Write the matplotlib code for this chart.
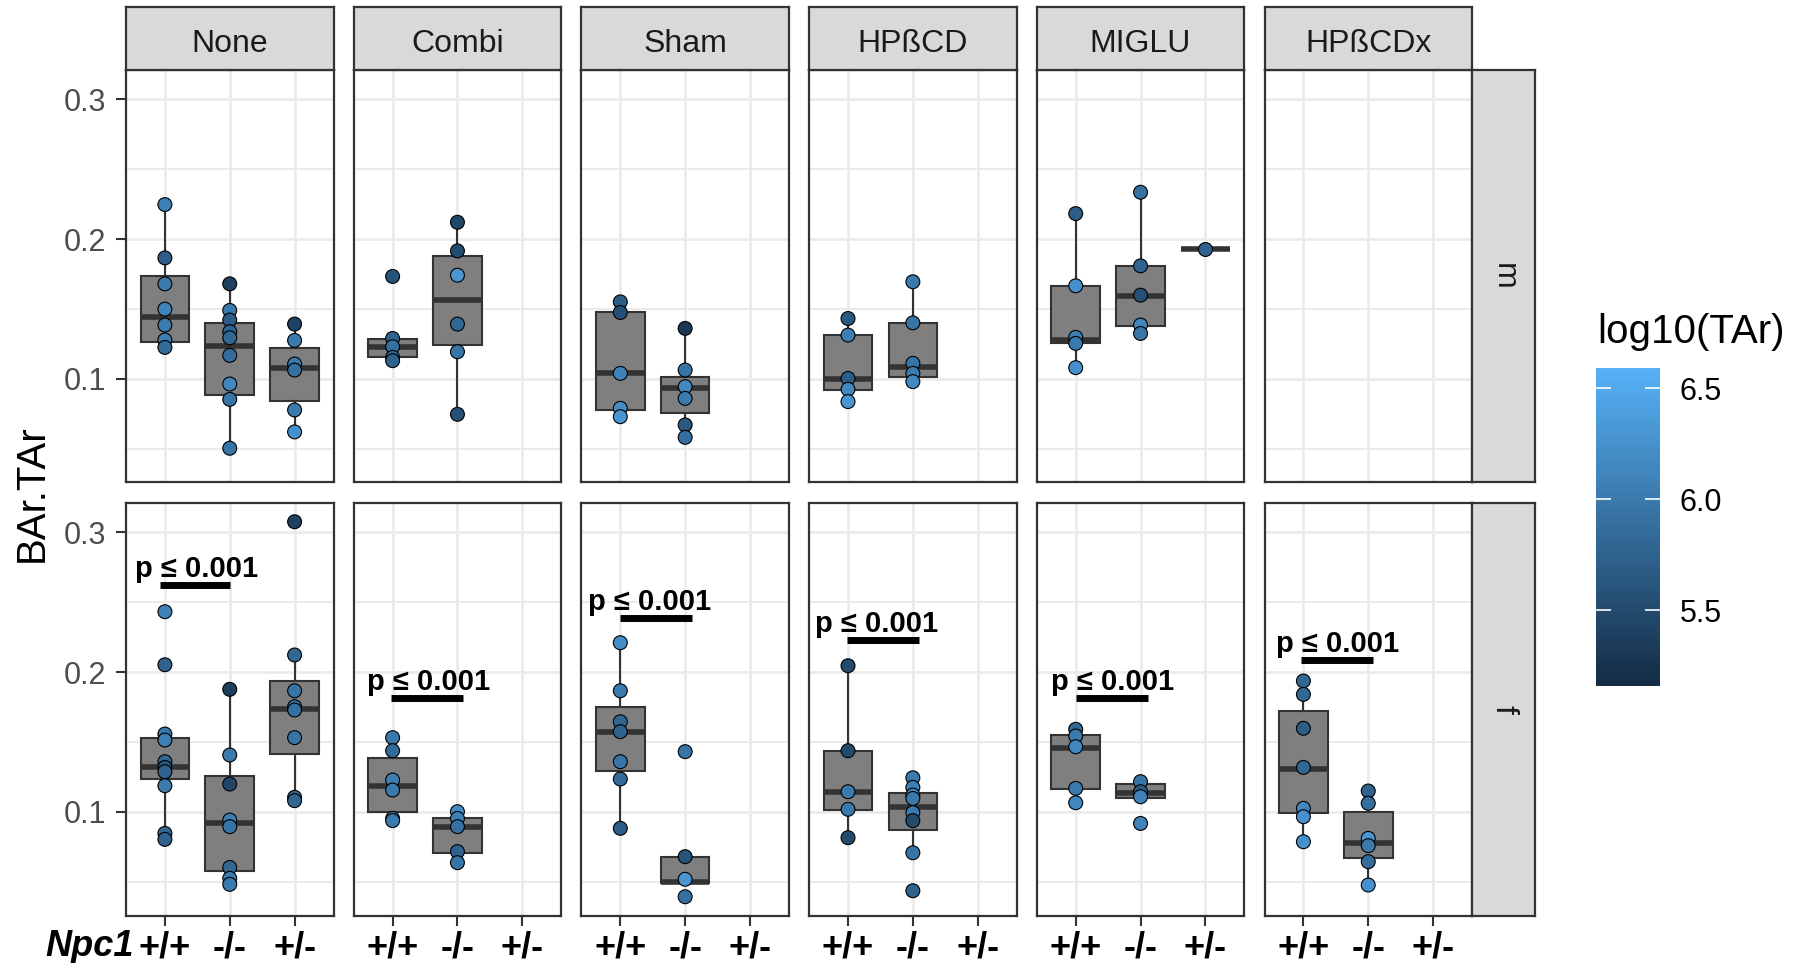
import numpy as np
import matplotlib
matplotlib.use('Agg')
import matplotlib.pyplot as plt
from matplotlib.colors import LinearSegmentedColormap, Normalize
from matplotlib.cm import ScalarMappable

plt.rcParams['font.family'] = ['Liberation Sans', 'DejaVu Sans']

treatments = ['None', 'Combi', 'Sham', 'HPßCD', 'MIGLU', 'HPßCDx']
sexes = ['m', 'f']
genotypes = ['+/+', '-/-', '+/-']

# one entry per group
grp_sex = ['m'] * 12 + ['f'] * 13
grp_trt = ['None', 'None', 'None', 'Combi', 'Combi', 'Sham', 'Sham', 'HPßCD', 'HPßCD',
           'MIGLU', 'MIGLU', 'MIGLU',
           'None', 'None', 'None', 'Combi', 'Combi', 'Sham', 'Sham', 'HPßCD', 'HPßCD',
           'MIGLU', 'MIGLU', 'HPßCDx', 'HPßCDx']
grp_gt = ['+/+', '-/-', '+/-', '+/+', '-/-', '+/+', '-/-', '+/+', '-/-', '+/+', '-/-', '+/-',
          '+/+', '-/-', '+/-', '+/+', '-/-', '+/+', '-/-', '+/+', '-/-', '+/+', '-/-', '+/+', '-/-']

# BAr.TAr of each animal
bar_vals = [
    [0.2247, 0.1865, 0.1679, 0.1498, 0.1384, 0.1277, 0.1224],
    [0.1679, 0.1489, 0.1420, 0.1336, 0.1293, 0.1167, 0.0962, 0.0852, 0.0502],
    [0.1391, 0.1274, 0.1105, 0.1062, 0.0776, 0.0619],
    [0.1732, 0.1288, 0.1229, 0.1153, 0.1129],
    [0.2120, 0.1915, 0.1741, 0.1391, 0.1193, 0.0745],
    [0.1550, 0.1474, 0.1038, 0.0788, 0.0728],
    [0.1360, 0.1062, 0.0943, 0.0859, 0.0669, 0.0580],
    [0.1431, 0.1312, 0.1002, 0.0924, 0.0836],
    [0.1694, 0.1400, 0.1110, 0.1038, 0.0979],
    [0.2182, 0.1665, 0.1296, 0.1253, 0.1079],
    [0.2335, 0.1808, 0.1598, 0.1384, 0.1324],
    [0.1932],
    [0.2432, 0.2052, 0.1556, 0.1513, 0.1358, 0.1317, 0.1286, 0.1186, 0.0845, 0.0802],
    [0.1876, 0.1406, 0.1198, 0.0940, 0.0893, 0.0601, 0.0523, 0.0480],
    [0.3076, 0.2122, 0.1866, 0.1752, 0.1728, 0.1530, 0.1103, 0.1079],
    [0.1530, 0.1437, 0.1227, 0.1155, 0.0952, 0.0936],
    [0.1000, 0.0952, 0.0893, 0.0714, 0.0635],
    [0.2210, 0.1866, 0.1644, 0.1573, 0.1358, 0.1234, 0.0881],
    [0.1430, 0.0678, 0.0516, 0.0391],
    [0.2045, 0.1437, 0.1143, 0.1017, 0.0814],
    [0.1243, 0.1174, 0.1119, 0.1095, 0.0993, 0.0936, 0.0706, 0.0434],
    [0.1590, 0.1542, 0.1465, 0.1167, 0.1064],
    [0.1215, 0.1143, 0.1107, 0.0916],
    [0.1936, 0.1840, 0.1597, 0.1317, 0.1024, 0.0964, 0.0785],
    [0.1148, 0.1060, 0.0809, 0.0757, 0.0642, 0.0475],
]

# log10(TAr) of each animal (point colour)
tar_vals = [
    [6.05, 5.70, 6.00, 6.10, 6.00, 6.05, 5.85],
    [5.40, 6.00, 5.70, 5.80, 5.80, 5.85, 6.15, 5.95, 5.95],
    [5.40, 6.00, 6.00, 5.90, 6.00, 6.25],
    [5.60, 5.75, 5.90, 5.80, 5.75],
    [5.45, 5.50, 6.30, 5.80, 5.95, 5.55],
    [5.70, 5.55, 6.10, 6.20, 6.30],
    [5.30, 5.95, 6.15, 6.00, 5.65, 5.90],
    [5.65, 6.05, 5.70, 6.15, 6.30],
    [6.00, 5.95, 5.95, 6.00, 6.15],
    [5.70, 6.25, 6.05, 6.00, 6.25],
    [5.90, 5.75, 5.55, 6.15, 5.95],
    [5.75],
    [6.10, 5.75, 6.00, 6.05, 5.80, 5.65, 5.75, 6.00, 5.80, 5.75],
    [5.35, 6.00, 5.45, 6.05, 5.95, 5.80, 6.00, 6.00],
    [5.40, 5.80, 5.95, 5.90, 5.90, 5.95, 5.80, 5.80],
    [6.00, 5.85, 6.05, 6.00, 6.10, 6.00],
    [6.20, 6.05, 5.90, 5.75, 5.95],
    [6.20, 6.00, 5.80, 5.75, 5.95, 5.85, 5.70],
    [5.95, 5.60, 6.30, 5.90],
    [5.50, 5.50, 6.00, 6.00, 5.50],
    [6.00, 6.05, 6.15, 6.00, 6.00, 5.50, 5.95, 5.75],
    [5.80, 6.00, 6.15, 6.00, 6.15],
    [5.95, 5.70, 6.10, 6.10],
    [5.80, 5.80, 5.70, 5.80, 6.15, 6.25, 6.25],
    [5.75, 5.90, 6.30, 6.00, 5.85, 6.25],
]

# box statistics
box_lo = [0.1224, 0.0502, 0.0619, 0.1129, 0.0745, 0.0728, 0.0580, 0.0836, 0.0979, 0.1079, 0.1324, 0.1932,
          0.0802, 0.0480, 0.1079, 0.0936, 0.0635, 0.0881, 0.0492, 0.0814, 0.0706, 0.1064, 0.1095, 0.0785, 0.0475]
box_q1 = [0.1260, 0.0881, 0.0843, 0.1153, 0.1241, 0.0776, 0.0752, 0.0919, 0.1014, 0.1253, 0.1379, 0.1932,
          0.1232, 0.0578, 0.1413, 0.0995, 0.0702, 0.1291, 0.0492, 0.1012, 0.0869, 0.1160, 0.1095, 0.0988, 0.0666]
box_med = [0.1439, 0.1234, 0.1074, 0.1229, 0.1563, 0.1038, 0.0931, 0.0998, 0.1086, 0.1277, 0.1594, 0.1932,
           0.1322, 0.0921, 0.1737, 0.1184, 0.0888, 0.1573, 0.0499, 0.1138, 0.1036, 0.1458, 0.1131, 0.1308, 0.0773]
box_q3 = [0.1734, 0.1400, 0.1222, 0.1284, 0.1877, 0.1479, 0.1010, 0.1312, 0.1400, 0.1665, 0.1808, 0.1932,
          0.1530, 0.1255, 0.1938, 0.1382, 0.0952, 0.1752, 0.0678, 0.1437, 0.1136, 0.1549, 0.1198, 0.1723, 0.1000]
box_hi = [0.2247, 0.1679, 0.1391, 0.1288, 0.2120, 0.1550, 0.1360, 0.1431, 0.1694, 0.2182, 0.2335, 0.1932,
          0.1556, 0.1876, 0.2122, 0.1530, 0.1000, 0.2210, 0.0678, 0.2045, 0.1243, 0.1590, 0.1198, 0.1936, 0.1148]

# significance bars (bottom row, +/+ vs -/-)
sig_y = [0.262, 0.1811, 0.2384, 0.2229, 0.1811, 0.2084]
sig_x0 = [0.92, 0.98, 0.99, 0.98, 1.01, 0.96]
sig_x1 = [2.01, 2.09, 2.10, 2.09, 2.11, 2.07]
sig_tx = [1.49, 1.56, 1.45, 1.44, 1.57, 1.52]
sig_label = 'p ≤ 0.001'

cmap = LinearSegmentedColormap.from_list('gg', ['#132B43', '#56B1F7'])
norm = Normalize(5.16, 6.59)

allv = np.concatenate([np.array(v) for v in bar_vals])
span = allv.max() - allv.min()
ylim = (allv.min() - 0.05 * span, allv.max() + 0.05 * span)

W, H = 1794, 963
fig = plt.figure(figsize=(W / 100, H / 100), dpi=100)


def rect(x0, y0, w, h):
    return [x0 / W, 1 - (y0 + h) / H, w / W, h / H]


col_x = [126 + 227.7 * i for i in range(6)]
panel_w = 207.5
row_y = [70, 503]
panel_h = 412.5
strip_col = '#D9D9D9'
edge = '#333333'

for r, sex in enumerate(sexes):
    for c, trt in enumerate(treatments):
        ax = fig.add_axes(rect(col_x[c], row_y[r], panel_w, panel_h))
        ax.set_xlim(0.4, 3.6)
        ax.set_ylim(*ylim)
        ax.set_xticks([1, 2, 3])
        ax.set_yticks([0.1, 0.2, 0.3])
        ax.set_yticks([0.05, 0.15, 0.25], minor=True)
        ax.grid(which='major', color='#EBEBEB', lw=2.0)
        ax.grid(which='minor', axis='y', color='#EBEBEB', lw=1.4)
        ax.set_axisbelow(True)
        for s in ax.spines.values():
            s.set_color(edge)
            s.set_linewidth(1.6)
        ax.tick_params(which='minor', length=0)
        ax.tick_params(which='major', color=edge, width=1.5, length=7)
        if c == 0:
            ax.set_yticklabels(['0.1', '0.2', '0.3'])
            ax.tick_params(axis='y', labelsize=22, labelcolor='#4D4D4D', pad=7)
        else:
            ax.tick_params(axis='y', left=False, labelleft=False)
        if r == 1:
            ax.set_xticklabels(genotypes, fontsize=26, fontweight='bold', color='black')
            ax.tick_params(axis='x', pad=4)
        else:
            ax.tick_params(axis='x', bottom=False, labelbottom=False)

        idx = [i for i in range(len(grp_sex)) if grp_sex[i] == sex and grp_trt[i] == trt]
        if idx:
            stats = [dict(whislo=box_lo[i], q1=box_q1[i], med=box_med[i],
                          q3=box_q3[i], whishi=box_hi[i]) for i in idx]
            pos = [genotypes.index(grp_gt[i]) + 1 for i in idx]
            ax.bxp(stats, positions=pos, widths=0.75, patch_artist=True,
                   showfliers=False, showcaps=False, manage_ticks=False,
                   boxprops=dict(facecolor='#7F7F7F', edgecolor=edge, lw=1.5),
                   whiskerprops=dict(color=edge, lw=1.5),
                   medianprops=dict(color=edge, lw=4.0, solid_capstyle='butt'))
            for i, p in zip(idx, pos):
                ax.scatter(np.full(len(bar_vals[i]), p), bar_vals[i], c=tar_vals[i],
                           cmap=cmap, norm=norm, s=100, edgecolors='black',
                           linewidths=0.8, zorder=3)
        if r == 1:
            ax.plot([sig_x0[c], sig_x1[c]], [sig_y[c], sig_y[c]], color='black',
                    lw=5, solid_capstyle='butt', zorder=4)
            ax.text(sig_tx[c], sig_y[c] + 0.006, sig_label, ha='center', va='baseline',
                    fontsize=21, fontweight='bold', zorder=4)

        if r == 0:
            sax = fig.add_axes(rect(col_x[c], 7.5, panel_w, 62.5))
            sax.set_facecolor(strip_col)
            sax.set_xticks([])
            sax.set_yticks([])
            for s in sax.spines.values():
                s.set_color(edge)
                s.set_linewidth(1.6)
            sax.text(0.5, 0.42, trt, ha='center', va='center', fontsize=23,
                     color='#1A1A1A', transform=sax.transAxes)

    rax = fig.add_axes(rect(1472.4, row_y[r], 62.6, panel_h))
    rax.set_facecolor(strip_col)
    rax.set_xticks([])
    rax.set_yticks([])
    for s in rax.spines.values():
        s.set_color(edge)
        s.set_linewidth(1.6)
    rax.text(0.5, 0.5, sex, ha='center', va='center', fontsize=23, rotation=-90,
             color='#1A1A1A', transform=rax.transAxes)

fig.text(32 / W, 1 - 493 / H, 'BAr.TAr', rotation=90, ha='center', va='center', fontsize=29)
fig.text(134 / W, 1 - 946 / H, 'Npc1', ha='right', va='center', fontsize=26,
         fontweight='bold', fontstyle='italic')

cax = fig.add_axes(rect(1596, 368, 64, 318))
cb = fig.colorbar(ScalarMappable(norm=norm, cmap=cmap), cax=cax)
cb.outline.set_visible(False)
cb.set_ticks([5.5, 6.0, 6.5])
cb.set_ticklabels(['5.5', '6.0', '6.5'])
cb.ax.tick_params(direction='in', color='white', length=11, width=1.2,
                  left=True, right=True, labelleft=False, labelright=True,
                  labelsize=22, pad=14)
fig.text(1597 / W, 1 - 332 / H, 'log10(TAr)', ha='left', va='center', fontsize=29)

fig.savefig('out.png', dpi=100)
